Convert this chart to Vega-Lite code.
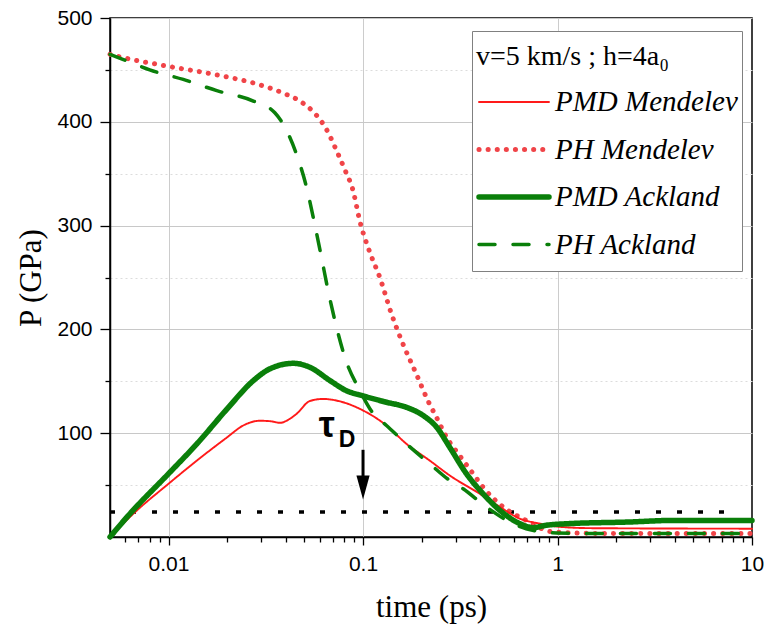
{
  "$schema": "https://vega.github.io/schema/vega-lite/v6.json",
  "width": 642,
  "height": 519,
  "autosize": {"type": "none"},
  "padding": {"left": 110, "top": 18, "right": 14, "bottom": 91},
  "background": "white",
  "config": {
    "view": {"stroke": "black", "strokeWidth": 1.5},
    "axis": {
      "domainColor": "black", "domainWidth": 1.5,
      "tickColor": "black", "tickWidth": 1.3,
      "labelFont": "Liberation Sans", "labelFontSize": 21, "labelColor": "black",
      "titleFont": "Liberation Serif", "titleFontSize": 31, "titleFontWeight": "normal", "titleColor": "black",
      "gridWidth": 1
    },
    "legend": {
      "orient": "none", "legendX": 362, "legendY": 13,
      "fillColor": "white", "strokeColor": "#808080", "padding": 4,
      "titleFont": "Liberation Serif", "titleFontSize": 28, "titleFontWeight": "normal", "titleColor": "black",
      "titleBaseline": "line-top", "titleLineHeight": 44, "titlePadding": 17, "titleLimit": 400,
      "labelFont": "Liberation Serif", "labelFontStyle": "italic", "labelFontSize": 29, "labelColor": "black", "labelOffset": 3, "labelLimit": 400,
      "symbolType": "stroke", "symbolSize": 4900, "clipHeight": 44, "rowPadding": 3.5, "symbolOffset": 0
    }
  },
  "datasets": {
    "curves": [
      {"s": "PH Mendelev", "t": 0.005, "P": 465},
      {"s": "PH Mendelev", "t": 0.0055, "P": 463},
      {"s": "PH Mendelev", "t": 0.0096, "P": 454},
      {"s": "PH Mendelev", "t": 0.0184, "P": 444.6},
      {"s": "PH Mendelev", "t": 0.0284, "P": 436.5},
      {"s": "PH Mendelev", "t": 0.0389, "P": 427.6},
      {"s": "PH Mendelev", "t": 0.0473, "P": 420},
      {"s": "PH Mendelev", "t": 0.0559, "P": 409},
      {"s": "PH Mendelev", "t": 0.0644, "P": 393.7},
      {"s": "PH Mendelev", "t": 0.074, "P": 370},
      {"s": "PH Mendelev", "t": 0.081, "P": 353},
      {"s": "PH Mendelev", "t": 0.0883, "P": 335.6},
      {"s": "PH Mendelev", "t": 0.097, "P": 302},
      {"s": "PH Mendelev", "t": 0.108, "P": 275},
      {"s": "PH Mendelev", "t": 0.122, "P": 250},
      {"s": "PH Mendelev", "t": 0.14, "P": 215},
      {"s": "PH Mendelev", "t": 0.158, "P": 189},
      {"s": "PH Mendelev", "t": 0.188, "P": 157},
      {"s": "PH Mendelev", "t": 0.216, "P": 131},
      {"s": "PH Mendelev", "t": 0.239, "P": 115},
      {"s": "PH Mendelev", "t": 0.269, "P": 96},
      {"s": "PH Mendelev", "t": 0.315, "P": 78},
      {"s": "PH Mendelev", "t": 0.368, "P": 61},
      {"s": "PH Mendelev", "t": 0.414, "P": 48},
      {"s": "PH Mendelev", "t": 0.525, "P": 29},
      {"s": "PH Mendelev", "t": 0.69, "P": 16},
      {"s": "PH Mendelev", "t": 0.944, "P": 5},
      {"s": "PH Mendelev", "t": 1.5, "P": 3.5},
      {"s": "PH Mendelev", "t": 3, "P": 3.3},
      {"s": "PH Mendelev", "t": 10, "P": 3.3},

      {"s": "PMD Mendelev", "t": 0.005, "P": 0},
      {"s": "PMD Mendelev", "t": 0.00673, "P": 24},
      {"s": "PMD Mendelev", "t": 0.01, "P": 51.3},
      {"s": "PMD Mendelev", "t": 0.014, "P": 73.7},
      {"s": "PMD Mendelev", "t": 0.02, "P": 96},
      {"s": "PMD Mendelev", "t": 0.0242, "P": 107.4},
      {"s": "PMD Mendelev", "t": 0.0295, "P": 112},
      {"s": "PMD Mendelev", "t": 0.0335, "P": 111.5},
      {"s": "PMD Mendelev", "t": 0.0374, "P": 110},
      {"s": "PMD Mendelev", "t": 0.042, "P": 113.8},
      {"s": "PMD Mendelev", "t": 0.0455, "P": 118.6},
      {"s": "PMD Mendelev", "t": 0.0533, "P": 131},
      {"s": "PMD Mendelev", "t": 0.062, "P": 133},
      {"s": "PMD Mendelev", "t": 0.079, "P": 129.8},
      {"s": "PMD Mendelev", "t": 0.0964, "P": 123.4},
      {"s": "PMD Mendelev", "t": 0.132, "P": 107.4},
      {"s": "PMD Mendelev", "t": 0.167, "P": 89.8},
      {"s": "PMD Mendelev", "t": 0.22, "P": 73.7},
      {"s": "PMD Mendelev", "t": 0.279, "P": 59.3},
      {"s": "PMD Mendelev", "t": 0.398, "P": 41.7},
      {"s": "PMD Mendelev", "t": 0.505, "P": 29},
      {"s": "PMD Mendelev", "t": 0.64, "P": 17.7},
      {"s": "PMD Mendelev", "t": 0.81, "P": 12.9},
      {"s": "PMD Mendelev", "t": 1, "P": 10},
      {"s": "PMD Mendelev", "t": 1.5, "P": 8.5},
      {"s": "PMD Mendelev", "t": 10, "P": 8},

      {"s": "PH Ackland", "t": 0.005, "P": 465},
      {"s": "PH Ackland", "t": 0.00586, "P": 460},
      {"s": "PH Ackland", "t": 0.008, "P": 450},
      {"s": "PH Ackland", "t": 0.0119, "P": 440.8},
      {"s": "PH Ackland", "t": 0.0177, "P": 430},
      {"s": "PH Ackland", "t": 0.0273, "P": 420},
      {"s": "PH Ackland", "t": 0.0352, "P": 408.7},
      {"s": "PH Ackland", "t": 0.0389, "P": 397.5},
      {"s": "PH Ackland", "t": 0.0455, "P": 368.7},
      {"s": "PH Ackland", "t": 0.0513, "P": 336.5},
      {"s": "PH Ackland", "t": 0.0566, "P": 300},
      {"s": "PH Ackland", "t": 0.0612, "P": 269},
      {"s": "PH Ackland", "t": 0.0662, "P": 237},
      {"s": "PH Ackland", "t": 0.0731, "P": 202},
      {"s": "PH Ackland", "t": 0.0807, "P": 173},
      {"s": "PH Ackland", "t": 0.0964, "P": 141},
      {"s": "PH Ackland", "t": 0.113, "P": 118.7},
      {"s": "PH Ackland", "t": 0.132, "P": 107.4},
      {"s": "PH Ackland", "t": 0.167, "P": 89.8},
      {"s": "PH Ackland", "t": 0.22, "P": 70.6},
      {"s": "PH Ackland", "t": 0.279, "P": 54.5},
      {"s": "PH Ackland", "t": 0.327, "P": 46.5},
      {"s": "PH Ackland", "t": 0.43, "P": 29},
      {"s": "PH Ackland", "t": 0.59, "P": 12.9},
      {"s": "PH Ackland", "t": 0.69, "P": 8},
      {"s": "PH Ackland", "t": 0.99, "P": 3.9},
      {"s": "PH Ackland", "t": 2, "P": 3.3},
      {"s": "PH Ackland", "t": 10, "P": 3.3},

      {"s": "PMD Ackland", "t": 0.005, "P": 0},
      {"s": "PMD Ackland", "t": 0.00634, "P": 22.5},
      {"s": "PMD Ackland", "t": 0.01, "P": 61},
      {"s": "PMD Ackland", "t": 0.014, "P": 89.8},
      {"s": "PMD Ackland", "t": 0.02, "P": 123.4},
      {"s": "PMD Ackland", "t": 0.0273, "P": 150.7},
      {"s": "PMD Ackland", "t": 0.0332, "P": 162},
      {"s": "PMD Ackland", "t": 0.0438, "P": 167.3},
      {"s": "PMD Ackland", "t": 0.0533, "P": 163.5},
      {"s": "PMD Ackland", "t": 0.0676, "P": 150.7},
      {"s": "PMD Ackland", "t": 0.082, "P": 141},
      {"s": "PMD Ackland", "t": 0.1, "P": 136},
      {"s": "PMD Ackland", "t": 0.132, "P": 129.8},
      {"s": "PMD Ackland", "t": 0.167, "P": 125},
      {"s": "PMD Ackland", "t": 0.204, "P": 117},
      {"s": "PMD Ackland", "t": 0.239, "P": 105.8},
      {"s": "PMD Ackland", "t": 0.279, "P": 86.5},
      {"s": "PMD Ackland", "t": 0.34, "P": 61},
      {"s": "PMD Ackland", "t": 0.414, "P": 41.7},
      {"s": "PMD Ackland", "t": 0.505, "P": 25.7},
      {"s": "PMD Ackland", "t": 0.64, "P": 12.9},
      {"s": "PMD Ackland", "t": 0.747, "P": 9},
      {"s": "PMD Ackland", "t": 0.877, "P": 11.3},
      {"s": "PMD Ackland", "t": 1.15, "P": 12.9},
      {"s": "PMD Ackland", "t": 2.3, "P": 14.4},
      {"s": "PMD Ackland", "t": 4, "P": 16},
      {"s": "PMD Ackland", "t": 10, "P": 16}
    ]
  },
  "layer": [
    {
      "data": {"values": [{"t": 0.005, "t2": 7.4, "P": 24}]},
      "mark": {"type": "rule", "color": "black", "strokeWidth": 3.5, "strokeDash": [5, 16]},
      "encoding": {
        "x": {"field": "t", "type": "quantitative"},
        "x2": {"field": "t2"},
        "y": {"field": "P", "type": "quantitative"}
      }
    },
    {
      "data": {"name": "curves"},
      "mark": {"type": "line", "interpolate": "monotone", "strokeCap": "round", "strokeJoin": "round"},
      "encoding": {
        "x": {
          "field": "t", "type": "quantitative",
          "scale": {"type": "log", "domain": [0.005, 10], "nice": false},
          "axis": {
            "title": "time (ps)",
            "values": [0.006, 0.007, 0.008, 0.009, 0.01, 0.02, 0.03, 0.04, 0.05, 0.06, 0.07, 0.08, 0.09, 0.1, 0.2, 0.3, 0.4, 0.5, 0.6, 0.7, 0.8, 0.9, 1, 2, 3, 4, 5, 6, 7, 8, 9, 10],
            "labelExpr": "datum.value == 0.01 ? '0.01' : datum.value == 0.1 ? '0.1' : datum.value == 1 ? '1' : datum.value == 10 ? '10' : ''",
            "tickSize": {"condition": {"test": "datum.value == 0.01 || datum.value == 0.1 || datum.value == 1 || datum.value == 10", "value": 8}, "value": 5},
            "gridColor": "#cccccc",
            "gridOpacity": {"condition": {"test": "datum.value == 0.01 || datum.value == 0.1 || datum.value == 1", "value": 1}, "value": 0},
            "labelFlush": false,
            "labelOverlap": false,
            "labelPadding": 8,
            "titlePadding": 18
          }
        },
        "y": {
          "field": "P", "type": "quantitative",
          "scale": {"domain": [0, 500], "nice": false},
          "axis": {
            "title": "P (GPa)",
            "values": [50, 100, 150, 200, 250, 300, 350, 400, 450, 500],
            "labelExpr": "datum.value % 100 == 0 ? '' + datum.value : ''",
            "tickSize": {"condition": {"test": "datum.value % 100 == 0", "value": 10}, "value": 5},
            "gridDash": {"condition": {"test": "datum.value % 100 == 0", "value": []}, "value": [2, 3]},
            "gridColor": {"condition": {"test": "datum.value % 100 == 0", "value": "#c8c8c8"}, "value": "#dcdcdc"},
            "labelOverlap": false,
            "labelPadding": 8,
            "titlePadding": 9
          }
        },
        "color": {
          "field": "s", "type": "nominal",
          "scale": {"domain": ["PMD Mendelev", "PH Mendelev", "PMD Ackland", "PH Ackland"], "range": ["#ff1a1a", "#f04448", "#0a7f0a", "#0a7f0a"]},
          "legend": {
            "title": "v=5 km/s ; h=4a₀",
            "encode": {"symbols": {"update": {"strokeCap": {"value": "round"}}}}
          }
        },
        "strokeDash": {
          "field": "s", "type": "nominal",
          "scale": {"domain": ["PMD Mendelev", "PH Mendelev", "PMD Ackland", "PH Ackland"], "range": [[1, 0], [0.1, 9], [1, 0], [16, 18]]},
          "legend": {
            "title": "v=5 km/s ; h=4a₀",
            "encode": {"symbols": {"update": {"strokeCap": {"value": "round"}}}}
          }
        },
        "strokeWidth": {
          "field": "s", "type": "nominal",
          "scale": {"type": "ordinal", "domain": ["PMD Mendelev", "PH Mendelev", "PMD Ackland", "PH Ackland"], "range": [1.9, 5, 5.5, 3.5]},
          "legend": {
            "title": "v=5 km/s ; h=4a₀",
            "encode": {"symbols": {"update": {"strokeCap": {"value": "round"}}}}
          }
        }
      }
    },
    {
      "data": {"values": [{"t": 0.1, "P1": 84, "P2": 47}]},
      "mark": {"type": "rule", "color": "black", "strokeWidth": 3},
      "encoding": {
        "x": {"field": "t", "type": "quantitative"},
        "y": {"field": "P1", "type": "quantitative"},
        "y2": {"field": "P2"}
      }
    },
    {
      "data": {"values": [{"t": 0.1, "P": 47.8}]},
      "mark": {"type": "point", "shape": "M-0.55,-1L0.55,-1L0,1Z", "filled": true, "color": "black", "opacity": 1, "size": 576},
      "encoding": {
        "x": {"field": "t", "type": "quantitative"},
        "y": {"field": "P", "type": "quantitative"}
      }
    },
    {
      "data": {"values": [{"t": 0.0652, "P": 96, "label": "τ"}]},
      "mark": {"type": "text", "font": "Liberation Sans", "fontSize": 36, "fontWeight": "bold", "align": "center", "baseline": "alphabetic", "color": "black"},
      "encoding": {
        "x": {"field": "t", "type": "quantitative"},
        "y": {"field": "P", "type": "quantitative"},
        "text": {"field": "label"}
      }
    },
    {
      "data": {"values": [{"t": 0.0751, "P": 86.3, "label": "D"}]},
      "mark": {"type": "text", "font": "Liberation Sans", "fontSize": 23, "fontWeight": "bold", "align": "left", "baseline": "alphabetic", "color": "black"},
      "encoding": {
        "x": {"field": "t", "type": "quantitative"},
        "y": {"field": "P", "type": "quantitative"},
        "text": {"field": "label"}
      }
    }
  ]
}
